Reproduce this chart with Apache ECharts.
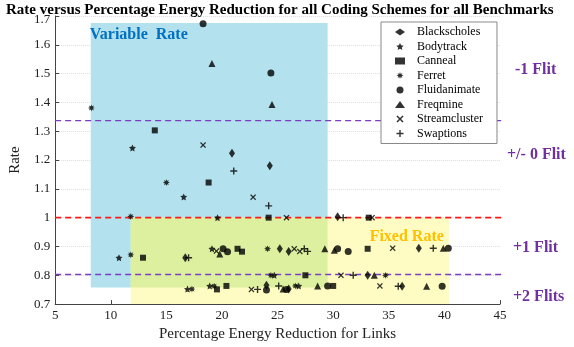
<!DOCTYPE html>
<html>
<head>
<meta charset="utf-8">
<script src="https://cdn.jsdelivr.net/npm/echarts@6/dist/echarts.min.js"></script>
<style>
  html, body { margin: 0; padding: 0; background: #fff; }
  #main { width: 574px; height: 347px; }
</style>
</head>
<body>
<div id="main"></div>
<script>
// benchmark points [energy reduction %, rate]
const blackscholes = [[20.9,1.224],[24.3,1.180],[30.4,1.003],[16.7,0.861],[25.2,0.892],[26.0,0.883],[37.7,0.894],[33.1,0.80],[24.0,0.765],[26.0,0.752],[36.2,0.762]];
const bodytrack = [[11.95,1.242],[16.56,1.072],[19.6,1.0],[10.74,0.861],[19.1,0.892],[16.9,0.752],[18.9,0.763],[24.7,0.80],[26.9,0.763]];
const canneal = [[13.96,1.303],[18.8,1.122],[24.2,1.0],[33.2,1.0],[12.9,0.861],[21.4,0.892],[21.8,0.882],[33.1,0.892],[27.5,0.80],[19.55,0.751],[20.4,0.763],[30.0,0.763]];
const ferret = [[8.26,1.381],[15.0,1.122],[11.8,1.004],[11.8,0.871],[17.3,0.752],[19.3,0.762],[24.1,0.892],[24.4,0.80],[34.7,0.80],[26.6,0.763]];
const fluidanimate = [[18.3,1.673],[24.4,1.502],[20.1,0.892],[20.5,0.882],[30.4,0.892],[31.35,0.883],[40.35,0.894],[24.0,0.749],[25.8,0.751],[29.5,0.763],[39.8,0.762]];
const freqmine = [[19.1,1.535],[24.5,1.393],[19.8,0.874],[29.25,0.892],[30.1,0.887],[39.9,0.894],[33.7,0.80],[25.5,0.752],[28.6,0.763],[38.4,0.762]];
const streamcluster = [[18.3,1.252],[22.8,1.071],[25.8,1.0],[33.5,1.0],[19.5,0.884],[26.5,0.892],[27.0,0.883],[35.35,0.894],[30.7,0.80],[22.65,0.751],[34.2,0.763]];
const swaptions = [[21.06,1.162],[24.2,1.041],[30.9,1.0],[17.0,0.861],[27.4,0.892],[27.7,0.883],[39.0,0.894],[31.8,0.80],[23.2,0.751],[25.1,0.763],[35.85,0.762]];

const names = ['Blackscholes','Bodytrack','Canneal','Ferret','Fluidanimate','Freqmine','Streamcluster','Swaptions'];

// reference lines and regions
const zeroFlitLine = [[5,1.0],[47.7,1.0]];
const minusFlitLine = [[5,1.337],[48.1,1.337]];
const plusTwoLine = [[5,0.803],[48.1,0.803]];
const variableRegion = [[8.2,0.758],[29.5,1.676]];
const fixedRegion = [[11.8,0.7],[40.4,1.0]];
const overlapRegion = [[11.8,0.758],[29.5,1.0]];

const serif = 'Liberation Serif';
const STAR = 'path://M0,-10 L2.9,-4 9.5,-3.1 4.7,1.5 5.9,8.1 0,5 -5.9,8.1 -4.7,1.5 -9.5,-3.1 -2.9,-4 Z';
const CROSS = 'path://M-10,-7 L-7,-10 0,-3 7,-10 10,-7 3,0 10,7 7,10 0,3 -7,10 -10,7 -3,0Z';
const PLUS = 'path://M-2,-10 H2 V-2 H10 V2 H2 V10 H-2 V2 H-10 V-2 H-2Z';
const ASTER = 'path://M0,-10 L1.91,-4.62 7.07,-7.07 4.62,-1.91 10,0 4.62,1.91 7.07,7.07 1.91,4.62 0,10 -1.91,4.62 -7.07,7.07 -4.62,1.91 -10,0 -4.62,-1.91 -7.07,-7.07 -1.91,-4.62 Z';

function pts(name, data, symbol, size){
  return {
    name: name, type: 'scatter', data: data,
    symbol: symbol, symbolSize: size,
    itemStyle: { color: '#000' },
    z: 5
  };
}

function refLine(data, color, width){
  return {
    type: 'line', data: data, clip: false, symbol: 'none', silent: true,
    lineStyle: { color: color, width: width, type: [6,4] },
    z: 3
  };
}

const flitFont = 'bold 16px "Liberation Serif"';

const chart = echarts.init(document.getElementById('main'));
chart.setOption({
  animation: false,
  title: {
    text: 'Rate versus Percentage Energy Reduction for all Coding Schemes for all Benchmarks',
    left: 1, top: -2,
    textStyle: { fontFamily: serif, fontSize: 15, fontWeight: 'bold', color: '#000' }
  },
  grid: { left: 49, right: 74, top: 16, bottom: 39 },
  legend: {
    data: names,
    orient: 'vertical',
    left: 381, top: 22,
    backgroundColor: '#fff',
    borderColor: '#888', borderWidth: 1,
    padding: [4, 14, 4, 14],
    itemGap: 2.5, itemWidth: 10, itemHeight: 7,
    textStyle: { fontFamily: serif, fontSize: 12, color: '#000', padding: [0,0,0,7] }
  },
  xAxis: {
    type: 'value', min: 5, max: 45, interval: 5,
    name: 'Percentage Energy Reduction for Links',
    nameLocation: 'middle', nameGap: 21,
    nameTextStyle: { fontFamily: serif, fontSize: 15, color: '#222' },
    axisLine: { lineStyle: { color: '#444' } },
    axisTick: { inside: true, length: 4, lineStyle: { color: '#444' } },
    axisLabel: { fontFamily: serif, fontSize: 13, color: '#222', margin: 5 },
    splitLine: { show: false }
  },
  yAxis: {
    type: 'value', min: 0.7, max: 1.7, interval: 0.1,
    name: 'Rate',
    nameLocation: 'middle', nameGap: 30,
    nameTextStyle: { fontFamily: serif, fontSize: 15, color: '#222' },
    axisLine: { show: true, lineStyle: { color: '#444' } },
    axisTick: { show: true, inside: true, length: 4, lineStyle: { color: '#444' } },
    axisLabel: {
      fontFamily: serif, fontSize: 13, color: '#222', margin: 5, showMaxLabel: true,
      formatter: function (v) {
        return Math.abs(v - 1.7) < 1e-6 ? '{top|1.7}' : String(Math.round(v * 10) / 10);
      },
      rich: { top: { fontFamily: serif, fontSize: 13, color: '#222', padding: [8, 0, 0, 0] } }
    },
    splitLine: { show: true, lineStyle: { color: '#ddd', type: 'dotted' } }
  },
  graphic: [
    { type: 'text', left: 515, top: 62, style: { text: '-1 Flit', font: flitFont, fill: '#7030a0' } },
    { type: 'text', left: 507, top: 147, style: { text: '+/- 0 Flit', font: flitFont, fill: '#7030a0' } },
    { type: 'text', left: 513, top: 240, style: { text: '+1 Flit', font: flitFont, fill: '#7030a0' } },
    { type: 'text', left: 513, top: 289, style: { text: '+2 Flits', font: flitFont, fill: '#7030a0' } }
  ],
  series: [
    {
      type: 'line', data: [], silent: true, z: 1,
      markArea: {
        silent: true,
        data: [
          [{ coord: variableRegion[0], itemStyle: { color: '#b3e2ee' },
             label: { show: true, position: 'insideTopLeft', offset: [-6, -1], formatter: 'Variable  Rate',
                      fontFamily: serif, fontSize: 16, fontWeight: 'bold', color: '#0070c0' } },
           { coord: variableRegion[1] }],
          [{ coord: fixedRegion[0], itemStyle: { color: '#fefcc3' },
             label: { show: true, position: 'insideTopRight', offset: [0, 6], formatter: 'Fixed Rate',
                      fontFamily: serif, fontSize: 16, fontWeight: 'bold', color: '#ffc000' } },
           { coord: fixedRegion[1] }],
          [{ coord: overlapRegion[0], itemStyle: { color: '#dcf0a0' } },
           { coord: overlapRegion[1] }]
        ]
      }
    },
    refLine(zeroFlitLine, '#ff1a1a', 1.6),
    refLine(minusFlitLine, '#7a3fc0', 1.4),
    refLine(plusTwoLine, '#7a3fc0', 1.4),
    pts('Blackscholes', blackscholes, 'diamond', [6, 9]),
    pts('Bodytrack', bodytrack, STAR, 7),
    pts('Canneal', canneal, 'rect', 6),
    pts('Ferret', ferret, ASTER, 7),
    pts('Fluidanimate', fluidanimate, 'circle', 7),
    pts('Freqmine', freqmine, 'triangle', 7),
    pts('Streamcluster', streamcluster, CROSS, 6),
    pts('Swaptions', swaptions, PLUS, 7)
  ]
});
</script>
</body>
</html>
